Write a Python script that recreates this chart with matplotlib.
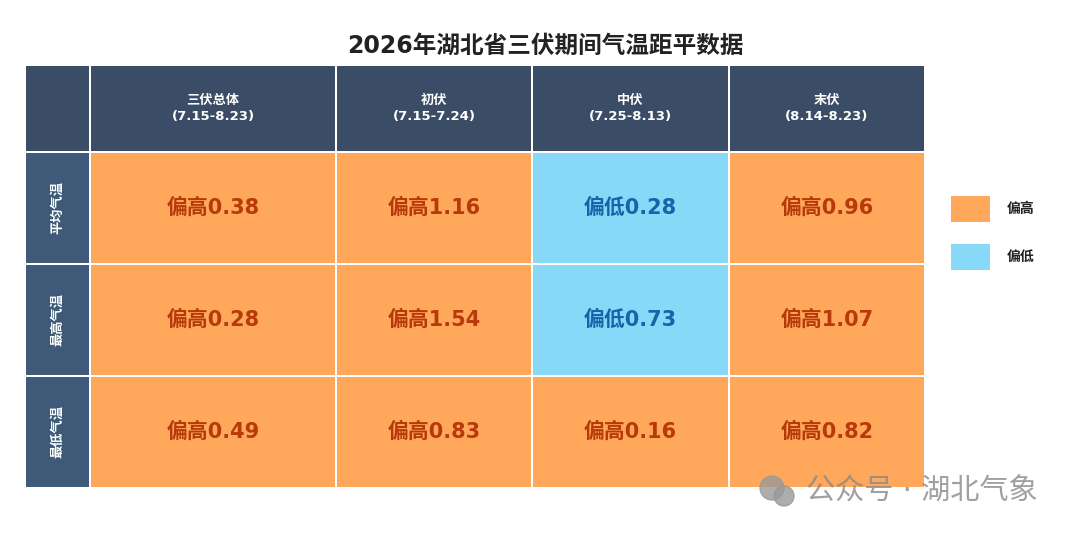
import matplotlib
matplotlib.use("Agg")
import matplotlib.pyplot as plt
from matplotlib.patches import Rectangle

plt.rcParams['font.family'] = ['DejaVu Sans', 'Noto Sans CJK SC']

# data
periods = ["三伏总体", "初伏", "中伏", "末伏"]
period_dates = ["(7.15-8.23)", "(7.15-7.24)", "(7.25-8.13)", "(8.14-8.23)"]
elements = ["平均气温", "最高气温", "最低气温"]
anomaly = [
    [0.38, 1.16, -0.28, 0.96],
    [0.28, 1.54, -0.73, 1.07],
    [0.49, 0.83, 0.16, 0.82],
]

# layout (pixels)
W, H = 1080, 535
col_edges = [26, 90, 336, 532, 729, 925]
row_edges = [66, 152, 264, 376, 488]
gap = 2

header_c = "#3b4d66"
rowlab_c = "#3e5a78"
warm_c = "#ffa85b"
cool_c = "#88d8f7"
warm_txt = "#b83a0a"
cool_txt = "#1565a8"

fig = plt.figure(figsize=(W / 100, H / 100), dpi=100)
ax = fig.add_axes([0, 0, 1, 1])
ax.set_xlim(0, W)
ax.set_ylim(H, 0)
ax.axis('off')


def cell(c, r, color):
    x0 = col_edges[c] + (gap / 2 if c > 0 else 0)
    x1 = col_edges[c + 1] - gap / 2
    y0 = row_edges[r] + (gap / 2 if r > 0 else 0)
    y1 = row_edges[r + 1] - gap / 2
    ax.add_patch(Rectangle((x0, y0), x1 - x0, y1 - y0, facecolor=color, edgecolor='none'))
    return (x0 + x1) / 2, (y0 + y1) / 2


# header row
cell(0, 0, header_c)
for j, (p, d) in enumerate(zip(periods, period_dates)):
    cx, cy = cell(j + 1, 0, header_c)
    ax.text(cx, cy, p + "\n" + d, color='white', fontsize=9.5, fontweight='bold',
            ha='center', va='center', linespacing=1.3)

# body
for i, el in enumerate(elements):
    cx, cy = cell(0, i + 1, rowlab_c)
    ax.text(cx, cy, el, color='white', fontsize=9.5, fontweight='bold',
            ha='center', va='center', rotation=90)
    for j, v in enumerate(anomaly[i]):
        warm = v >= 0
        cx, cy = cell(j + 1, i + 1, warm_c if warm else cool_c)
        label = ("偏高" if warm else "偏低") + f"{abs(v):.2f}"
        ax.text(cx, cy, label, color=warm_txt if warm else cool_txt,
                fontsize=15, fontweight='bold', ha='center', va='center')

# title
ax.text(545, 46, "2026年湖北省三伏期间气温距平数据", fontsize=17, fontweight='bold',
        ha='center', va='center', color='#222222')

# legend
for k, (name, color) in enumerate([("偏高", warm_c), ("偏低", cool_c)]):
    y = 196 + k * 48
    ax.add_patch(Rectangle((951, y), 39, 26, facecolor=color, edgecolor='none'))
    ax.text(1007, y + 13, name, fontsize=10, fontweight='bold', ha='left', va='center',
            color='#222222')

# watermark
ax.text(806, 492, "公众号 · 湖北气象", fontsize=21, ha='left', va='center',
        color='#888888', alpha=0.8)
for (x, y, r) in [(772, 488, 12), (784, 496, 10)]:
    ax.add_patch(plt.Circle((x, y), r, color='#999999', alpha=0.8))

fig.savefig("out.png", dpi=100)
